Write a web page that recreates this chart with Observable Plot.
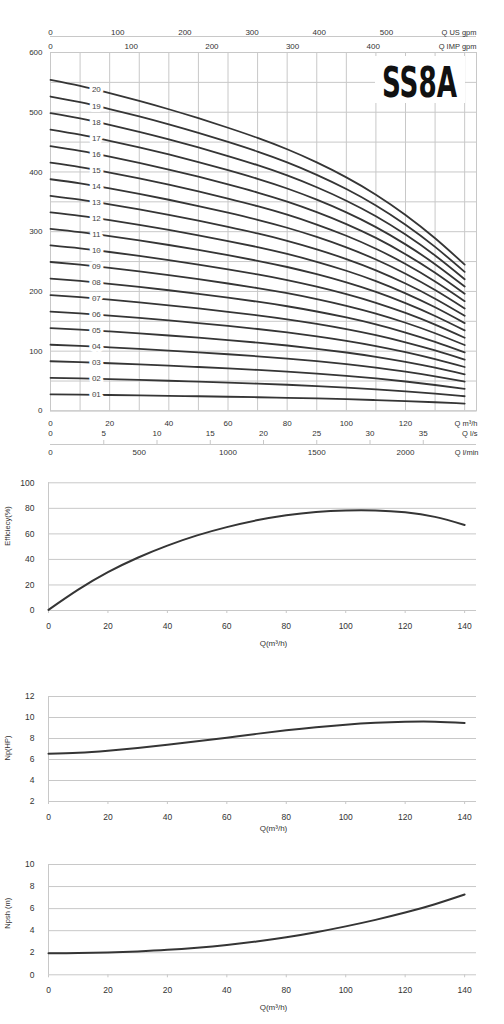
<!DOCTYPE html>
<html>
<head>
<meta charset="utf-8">
<script src="https://cdn.jsdelivr.net/npm/d3@7"></script>
<script src="https://cdn.jsdelivr.net/npm/@observablehq/plot@0.6"></script>
<style>
  html, body { margin: 0; padding: 0; background: #fff; }
  #wrap { position: relative; width: 504px; height: 1024px; overflow: hidden; font-family: "Liberation Sans", Arial, sans-serif; }
  #wrap > svg, #wrap > figure { position: absolute; left: 0; margin: 0; }
  #title { position: absolute; left: 375px; top: 56px; width: 90px; height: 47px; background: #fff; }
  #title svg { overflow: visible; }
</style>
</head>
<body>
<div id="wrap"></div>
<script>
// ---------- data ----------
const flow = [0, 10, 20, 30, 40, 50, 60, 70, 80, 90, 100, 110, 120, 130, 140]; // m³/h
const headPerStage = [27.7, 27.2, 26.6, 25.95, 25.25, 24.5, 23.7, 22.85, 21.9, 20.8, 19.55, 18.1, 16.4, 14.45, 12.25]; // m per stage
const stages = [1, 2, 3, 4, 5, 6, 7, 8, 9, 10, 11, 12, 13, 14, 15, 16, 17, 18, 19, 20];
const stageLabels = ["01","02","03","04","05","06","07","08","09","10","11","12","13","14","15","16","17","18","19","20"];
const efficiency = [0.5, 16.3, 30, 41.3, 50.8, 58.8, 65.3, 70.6, 74.6, 77.2, 78.4, 78.4, 76.9, 73.3, 67];
const power = [6.54, 6.64, 6.84, 7.1, 7.4, 7.73, 8.08, 8.44, 8.78, 9.08, 9.32, 9.49, 9.59, 9.6, 9.47];
const npsh = [1.96, 1.97, 2.02, 2.12, 2.26, 2.46, 2.71, 3.02, 3.4, 3.86, 4.39, 4.98, 5.64, 6.4, 7.28];

const headTicks = [0, 100, 200, 300, 400, 500, 600];
const m3hTicks = [0, 20, 40, 60, 80, 100, 120];
const lsTicks = [0, 5, 10, 15, 20, 25, 30, 35];
const lminTicks = [0, 500, 1000, 1500, 2000];
const usGpmTicks = [0, 100, 200, 300, 400, 500];
const impGpmTicks = [0, 100, 200, 300, 400];
const qTicks = [0, 20, 40, 60, 80, 100, 120, 140];
const effTicks = [0, 20, 40, 60, 80, 100];
const powerTicks = [2, 4, 6, 8, 10, 12];
const npshTicks = [0, 2, 4, 6, 8, 10];
const npshQTickLabels = ["0", "20", "20", "40", "80", "100", "120", "140"];

// unit conversions to m³/h
const US_GPM = 0.22712, IMP_GPM = 0.27277, LPS = 3.6, LPM = 0.06;

const GRID = "#c8c8c8";
const INK = "#333";
const LINE = "#353535";
const FONT = "'Liberation Sans', Arial, sans-serif";
const xDomain = [0, 144];

const wrap = document.getElementById("wrap");
function place(svg, top) { svg.style.top = top + "px"; wrap.appendChild(svg); }

// ---------- head curves ----------
const headData = [];
stages.forEach((n) => flow.forEach((q, i) => headData.push({stage: n, q, h: n * headPerStage[i]})));

const labelQ = 15.5;
const i0 = flow.findIndex(q => q > labelQ) - 1;
const t = (labelQ - flow[i0]) / (flow[i0 + 1] - flow[i0]);
const hAtLabel = headPerStage[i0] + t * (headPerStage[i0 + 1] - headPerStage[i0]);
const labelData = stages.map((n, i) => ({q: labelQ, h: n * hAtLabel, label: stageLabels[i]}));

const head = Plot.plot({
  width: 504, height: 470,
  marginTop: 52, marginBottom: 59.6, marginLeft: 50, marginRight: 28,
  style: {fontFamily: FONT, fontSize: "8px", color: INK, background: "transparent", overflow: "visible"},
  x: {domain: xDomain, axis: null},
  y: {domain: [0, 600], axis: null},
  marks: [
    Plot.gridX(d3.range(0, 150, 10), {stroke: GRID, strokeOpacity: 1}),
    Plot.gridY(d3.range(0, 650, 50), {stroke: GRID, strokeOpacity: 1}),
    Plot.frame({stroke: GRID}),
    Plot.axisY(headTicks, {label: null, tickSize: 0, tickPadding: 8, fill: INK, fontSize: 8}),
    Plot.line(headData, {x: "q", y: "h", z: "stage", curve: "natural", stroke: LINE, strokeWidth: 1.8}),
    Plot.text(labelData, {x: "q", y: "h", text: "label", fill: "#444", fontSize: 8, stroke: "white", strokeWidth: 6, paintOrder: "stroke"}),
    // top axes
    Plot.ruleY([600], {dy: -16, stroke: GRID}),
    Plot.text(usGpmTicks, {x: d => d * US_GPM, frameAnchor: "top", dy: -23, text: d => String(d), fill: INK, fontSize: 8}),
    Plot.text(impGpmTicks, {x: d => d * IMP_GPM, frameAnchor: "top", dy: -9, text: d => String(d), fill: INK, fontSize: 8}),
    Plot.text(["Q US gpm"], {frameAnchor: "top-right", textAnchor: "end", dy: -23, fill: INK, fontSize: 7.5}),
    Plot.text(["Q IMP gpm"], {frameAnchor: "top-right", textAnchor: "end", dy: -9, fill: INK, fontSize: 7.5}),
    // bottom axes
    Plot.text(m3hTicks, {x: d => d, frameAnchor: "bottom", dy: 14.6, text: d => String(d), fill: INK, fontSize: 8}),
    Plot.text(lsTicks, {x: d => d * LPS, frameAnchor: "bottom", dy: 24.6, text: d => String(d), fill: INK, fontSize: 8}),
    Plot.ruleY([0], {dy: 33.6, stroke: GRID}),
    Plot.ruleX(lsTicks.slice(1), {x: d => d * LPS, y1: 0, y2: 0, dy: 33.6, insetTop: -4, stroke: GRID}),
    Plot.text(lminTicks, {x: d => d * LPM, frameAnchor: "bottom", dy: 43.6, text: d => String(d), fill: INK, fontSize: 8}),
    Plot.text(["Q m³/h"], {frameAnchor: "bottom-right", textAnchor: "end", dy: 14.6, dx: 1, fill: INK, fontSize: 7.5}),
    Plot.text(["Q l/s"], {frameAnchor: "bottom-right", textAnchor: "end", dy: 24.6, dx: 1, fill: INK, fontSize: 7.5}),
    Plot.text(["Q l/min"], {frameAnchor: "bottom-right", textAnchor: "end", dy: 43.6, dx: 2, fill: INK, fontSize: 7.5})
  ]
});
place(head, 0);

// model title
const title = document.createElement("div");
title.id = "title";
title.innerHTML = '<svg width="90" height="47"><text x="7" y="40.7" font-family="\'Liberation Sans Narrow\', \'DejaVu Sans Condensed\', \'Liberation Sans\', Arial, sans-serif" font-weight="bold" font-size="42" textLength="75" lengthAdjust="spacingAndGlyphs" fill="#111">SS8A</text></svg>';
wrap.appendChild(title);

// ---------- small charts ----------
function smallChart({values, yDomain, yTicks, top, height, marginTop, marginBottom, yLabel, yLabelDy, xTickFormat}) {
  const data = flow.map((q, i) => ({q, v: values[i]}));
  return place(Plot.plot({
    width: 504, height,
    marginTop, marginBottom, marginLeft: 48, marginRight: 28,
    style: {fontFamily: FONT, fontSize: "8px", color: INK, background: "transparent", overflow: "visible"},
    x: {domain: xDomain, axis: null},
    y: {domain: yDomain, axis: null},
    marks: [
      Plot.gridY(yTicks, {stroke: GRID, strokeOpacity: 1}),
      Plot.ruleX([0], {y1: yDomain[0], y2: yDomain[1], stroke: GRID}),
      Plot.axisY(yTicks, {label: null, tickSize: 0, tickPadding: 14, fill: INK, fontSize: 8.5}),
      Plot.axisX(qTicks, {label: null, tickSize: 3, tickPadding: 9, stroke: GRID, fill: INK, fontSize: 8.5, tickFormat: xTickFormat}),
      Plot.text([yLabel], {frameAnchor: "left", rotate: -90, dx: -41, dy: yLabelDy, fill: INK, fontSize: 7.5}),
      Plot.text(["Q(m³/h)"], {frameAnchor: "bottom", dx: 11, dy: marginBottom - 15, fill: INK, fontSize: 8}),
      Plot.line(data, {x: "q", y: "v", curve: "natural", stroke: LINE, strokeWidth: 2})
    ]
  }), top);
}

smallChart({values: efficiency, yDomain: [0, 100], yTicks: effTicks, top: 470, height: 190,
  marginTop: 12.3, marginBottom: 50, yLabel: "Efficiecy(%)", yLabelDy: -1, xTickFormat: d => String(d)});
smallChart({values: power, yDomain: [2, 12], yTicks: powerTicks, top: 685, height: 160,
  marginTop: 11, marginBottom: 44, yLabel: "Np(HP)", yLabelDy: 11.5, xTickFormat: d => String(d)});
smallChart({values: npsh, yDomain: [0, 10], yTicks: npshTicks, top: 855, height: 169,
  marginTop: 9, marginBottom: 49.7, yLabel: "Npsh (m)", yLabelDy: 9, xTickFormat: (d, i) => npshQTickLabels[i]});
</script>
</body>
</html>
